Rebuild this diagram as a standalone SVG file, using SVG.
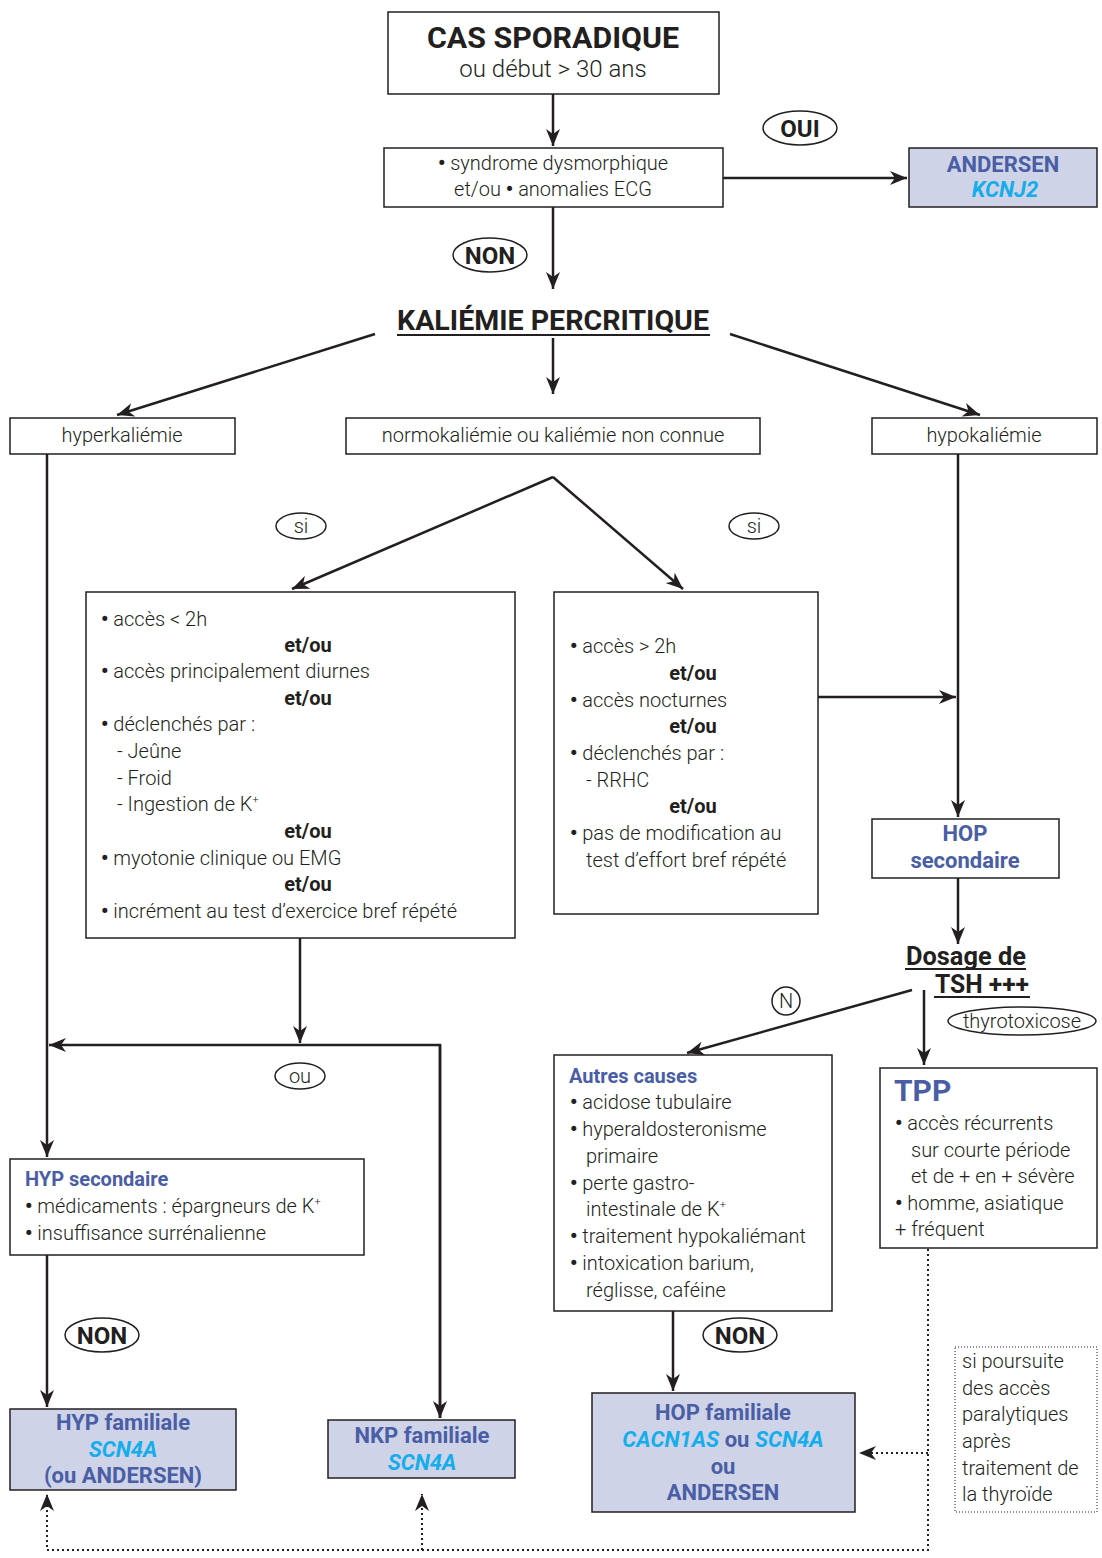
<svg xmlns="http://www.w3.org/2000/svg" width="1102" height="1558" viewBox="0 0 1102 1558">
<defs>
<style>
text{font-family:Roboto,"Liberation Sans",sans-serif;fill:#231f20}
.box{fill:#fff;stroke:#231f20;stroke-width:1.5}
.gbox{fill:#cfd3e7;stroke:#231f20;stroke-width:1.5}
.b{font-size:20px;font-weight:300}
.bu{font-weight:900}
.eo{font-size:20px;font-weight:700}
.hd{font-weight:700;fill:#4a5ea6}
.gene{font-weight:700;font-style:italic;fill:#16adec}
.lab{fill:#fff;stroke:#231f20;stroke-width:1.5}
.lt{font-weight:700;font-size:24px}
.c{stroke:#231f20;stroke-width:2.5;fill:none}
.d{stroke:#231f20;stroke-width:2;fill:none;stroke-dasharray:2 3}
.sup{font-size:11px}
</style>
<marker id="ar" markerUnits="userSpaceOnUse" markerWidth="18" markerHeight="14" refX="17" refY="7" orient="auto">
<path d="M0,0 L17,7 L0,14 L5,7 z" fill="#231f20"/>
</marker>
</defs>
<rect width="1102" height="1558" fill="#fff"/>

<g id="connectors">
<path class="c" d="M553,94 V146" marker-end="url(#ar)"/>
<path class="c" d="M723,178 H907" marker-end="url(#ar)"/>
<path class="c" d="M553,207 V289" marker-end="url(#ar)"/>
<path class="c" d="M553,338 V394" marker-end="url(#ar)"/>
<path class="c" d="M375,334 L117,415" marker-end="url(#ar)"/>
<path class="c" d="M730,334 L980,415" marker-end="url(#ar)"/>
<path class="c" d="M47,454 V1157" marker-end="url(#ar)"/>
<path class="c" d="M958,454 V817" marker-end="url(#ar)"/>
<path class="c" d="M553,477 L292,589" marker-end="url(#ar)"/>
<path class="c" d="M553,477 L683,589" marker-end="url(#ar)"/>
<path class="c" d="M818,697 H956" marker-end="url(#ar)"/>
<path class="c" d="M958,878 V944" marker-end="url(#ar)"/>
<path class="c" d="M912,990 L687,1053" marker-end="url(#ar)"/>
<path class="c" d="M924,990 V1065" marker-end="url(#ar)"/>
<path class="c" d="M300,938 V1043" marker-end="url(#ar)"/>
<path class="c" d="M440,1418 V1045 H49" marker-end="url(#ar)"/>
<path class="c" d="M440,1045 V1418" marker-end="url(#ar)"/>
<path class="c" d="M47,1255 V1407" marker-end="url(#ar)"/>
<path class="c" d="M673,1311 V1391" marker-end="url(#ar)"/>
<path class="d" d="M928,1249 V1550 H47 V1494" marker-end="url(#ar)"/>
<path class="d" d="M422,1550 V1494" marker-end="url(#ar)"/>
<path class="d" d="M928,1453 H859" marker-end="url(#ar)"/>
</g>

<g id="labels">
<g id="lab-oui"><ellipse class="lab" cx="800" cy="128" rx="37" ry="17"/><text class="lt" x="800" y="137" text-anchor="middle">OUI</text></g>
<g id="lab-non1"><ellipse class="lab" cx="490" cy="255" rx="37" ry="17"/><text class="lt" x="490" y="264" text-anchor="middle">NON</text></g>
<g id="lab-si1"><ellipse class="lab" cx="301" cy="526" rx="25" ry="13"/><text class="b" x="301" y="533" text-anchor="middle">si</text></g>
<g id="lab-si2"><ellipse class="lab" cx="754" cy="526" rx="25" ry="13"/><text class="b" x="754" y="533" text-anchor="middle">si</text></g>
<g id="lab-ou"><ellipse class="lab" cx="300" cy="1076" rx="25" ry="13"/><text class="b" x="300" y="1083" text-anchor="middle">ou</text></g>
<g id="lab-N"><circle class="lab" cx="786" cy="1001" r="14"/><text class="b" x="786" y="1008" text-anchor="middle">N</text></g>
<g id="lab-thyro"><ellipse class="lab" cx="1022" cy="1021" rx="74" ry="14"/><text class="b" x="1022" y="1028" text-anchor="middle">thyrotoxicose</text></g>
<g id="lab-non2"><ellipse class="lab" cx="102" cy="1335" rx="37" ry="17"/><text class="lt" x="102" y="1344" text-anchor="middle">NON</text></g>
<g id="lab-non3"><ellipse class="lab" cx="740" cy="1335" rx="37" ry="17"/><text class="lt" x="740" y="1344" text-anchor="middle">NON</text></g>
</g>

<g id="n-cas">
<rect class="box" x="388" y="12" width="331" height="82"/>
<text x="553" y="48" text-anchor="middle" font-size="30" font-weight="700" textLength="252" lengthAdjust="spacingAndGlyphs">CAS SPORADIQUE</text>
<text x="553" y="77" text-anchor="middle" font-size="24" font-weight="300">ou début &gt; 30 ans</text>
</g>

<g id="n-synd">
<rect class="box" x="384" y="148" width="339" height="59"/>
<text class="b" x="553" y="170" text-anchor="middle"><tspan class="bu">•</tspan> syndrome dysmorphique</text>
<text class="b" x="553" y="196" text-anchor="middle">et/ou <tspan class="bu">•</tspan> anomalies ECG</text>
</g>

<g id="n-andersen">
<rect class="gbox" x="909" y="148" width="188" height="59"/>
<text class="hd" x="1003" y="172" text-anchor="middle" font-size="22">ANDERSEN</text>
<text class="gene" x="1005" y="197" text-anchor="middle" font-size="22">KCNJ2</text>
</g>

<g id="n-kaliemie">
<text x="553" y="330" text-anchor="middle" font-size="28" font-weight="700" textLength="312" lengthAdjust="spacingAndGlyphs">KALIÉMIE PERCRITIQUE</text>
<line x1="397" y1="335" x2="710" y2="335" stroke="#231f20" stroke-width="2"/>
</g>

<g id="n-hyper">
<rect class="box" x="10" y="418" width="225" height="36"/>
<text class="b" x="122" y="442" text-anchor="middle">hyperkaliémie</text>
</g>
<g id="n-normo">
<rect class="box" x="346" y="418" width="414" height="36"/>
<text class="b" x="553" y="442" text-anchor="middle">normokaliémie ou kaliémie non connue</text>
</g>
<g id="n-hypo">
<rect class="box" x="872" y="418" width="225" height="36"/>
<text class="b" x="984" y="442" text-anchor="middle">hypokaliémie</text>
</g>

<g id="n-crit-left">
<rect class="box" x="86" y="592" width="429" height="346"/>
<text class="b" x="101" y="626"><tspan class="bu">•</tspan> accès &lt; 2h</text>
<text class="eo" x="308" y="652" text-anchor="middle">et/ou</text>
<text class="b" x="101" y="678"><tspan class="bu">•</tspan> accès principalement diurnes</text>
<text class="eo" x="308" y="705" text-anchor="middle">et/ou</text>
<text class="b" x="101" y="731"><tspan class="bu">•</tspan> déclenchés par :</text>
<text class="b" x="117" y="758">- Jeûne</text>
<text class="b" x="117" y="785">- Froid</text>
<text class="b" x="117" y="811">- Ingestion de K<tspan class="sup" dy="-8">+</tspan></text>
<text class="eo" x="308" y="838" text-anchor="middle">et/ou</text>
<text class="b" x="101" y="865"><tspan class="bu">•</tspan> myotonie clinique ou EMG</text>
<text class="eo" x="308" y="891" text-anchor="middle">et/ou</text>
<text class="b" x="101" y="918"><tspan class="bu">•</tspan> incrément au test d’exercice bref répété</text>
</g>

<g id="n-crit-right">
<rect class="box" x="554" y="592" width="264" height="322"/>
<text class="b" x="570" y="653"><tspan class="bu">•</tspan> accès &gt; 2h</text>
<text class="eo" x="693" y="680" text-anchor="middle">et/ou</text>
<text class="b" x="570" y="707"><tspan class="bu">•</tspan> accès nocturnes</text>
<text class="eo" x="693" y="733" text-anchor="middle">et/ou</text>
<text class="b" x="570" y="760"><tspan class="bu">•</tspan> déclenchés par :</text>
<text class="b" x="586" y="787">- RRHC</text>
<text class="eo" x="693" y="813" text-anchor="middle">et/ou</text>
<text class="b" x="570" y="840"><tspan class="bu">•</tspan> pas de modification au</text>
<text class="b" x="586" y="867">test d’effort bref répété</text>
</g>

<g id="n-hopsec">
<rect class="box" x="872" y="819" width="187" height="59"/>
<text class="hd" x="965" y="841" text-anchor="middle" font-size="22">HOP</text>
<text class="hd" x="965" y="868" text-anchor="middle" font-size="22">secondaire</text>
</g>

<g id="n-tsh">
<text x="966" y="965" text-anchor="middle" font-size="25" font-weight="700" textLength="120" lengthAdjust="spacingAndGlyphs">Dosage de</text>
<line x1="905" y1="969" x2="1026" y2="969" stroke="#231f20" stroke-width="2"/>
<text x="982" y="993" text-anchor="middle" font-size="25" font-weight="700" textLength="94" lengthAdjust="spacingAndGlyphs">TSH +++</text>
<line x1="934" y1="997" x2="1030" y2="997" stroke="#231f20" stroke-width="2"/>
</g>

<g id="n-autres">
<rect class="box" x="554" y="1055" width="278" height="256"/>
<text class="hd" x="569" y="1083" font-size="20">Autres causes</text>
<text class="b" x="570" y="1109"><tspan class="bu">•</tspan> acidose tubulaire</text>
<text class="b" x="570" y="1136"><tspan class="bu">•</tspan> hyperaldosteronisme</text>
<text class="b" x="586" y="1163">primaire</text>
<text class="b" x="570" y="1190"><tspan class="bu">•</tspan> perte gastro-</text>
<text class="b" x="586" y="1216">intestinale de K<tspan class="sup" dy="-8">+</tspan></text>
<text class="b" x="570" y="1243"><tspan class="bu">•</tspan> traitement hypokaliémant</text>
<text class="b" x="570" y="1270"><tspan class="bu">•</tspan> intoxication barium,</text>
<text class="b" x="586" y="1297">réglisse, caféine</text>
</g>

<g id="n-tpp">
<rect class="box" x="880" y="1068" width="217" height="180"/>
<text class="hd" x="894" y="1101" font-size="30">TPP</text>
<text class="b" x="895" y="1130"><tspan class="bu">•</tspan> accès récurrents</text>
<text class="b" x="911" y="1157">sur courte période</text>
<text class="b" x="911" y="1183">et de + en + sévère</text>
<text class="b" x="895" y="1210"><tspan class="bu">•</tspan> homme, asiatique</text>
<text class="b" x="895" y="1236">+ fréquent</text>
</g>

<g id="n-hypsec">
<rect class="box" x="10" y="1159" width="354" height="96"/>
<text class="hd" x="25" y="1186" font-size="20">HYP secondaire</text>
<text class="b" x="25" y="1213"><tspan class="bu">•</tspan> médicaments : épargneurs de K<tspan class="sup" dy="-8">+</tspan></text>
<text class="b" x="25" y="1240"><tspan class="bu">•</tspan> insuffisance surrénalienne</text>
</g>

<g id="n-hypfam">
<rect class="gbox" x="10" y="1409" width="226" height="81"/>
<text class="hd" x="123" y="1430" text-anchor="middle" font-size="22">HYP familiale</text>
<text class="gene" x="123" y="1457" text-anchor="middle" font-size="22">SCN4A</text>
<text class="hd" x="123" y="1483" text-anchor="middle" font-size="22">(ou ANDERSEN)</text>
</g>

<g id="n-nkpfam">
<rect class="gbox" x="328" y="1420" width="187" height="58"/>
<text class="hd" x="422" y="1443" text-anchor="middle" font-size="22">NKP familiale</text>
<text class="gene" x="422" y="1470" text-anchor="middle" font-size="22">SCN4A</text>
</g>

<g id="n-hopfam">
<rect class="gbox" x="592" y="1393" width="263" height="119"/>
<text class="hd" x="723" y="1420" text-anchor="middle" font-size="22">HOP familiale</text>
<text x="723" y="1447" text-anchor="middle" font-size="22"><tspan class="gene">CACN1AS</tspan><tspan class="hd"> ou </tspan><tspan class="gene">SCN4A</tspan></text>
<text class="hd" x="723" y="1474" text-anchor="middle" font-size="22">ou</text>
<text class="hd" x="723" y="1500" text-anchor="middle" font-size="22">ANDERSEN</text>
</g>

<g id="n-note">
<rect x="955" y="1347" width="142" height="165" fill="#fff" stroke="#231f20" stroke-width="1" stroke-dasharray="1 2"/>
<text class="b" x="962" y="1368" font-size="19">si poursuite</text>
<text class="b" x="962" y="1395" font-size="19">des accès</text>
<text class="b" x="962" y="1421" font-size="19">paralytiques</text>
<text class="b" x="962" y="1448" font-size="19">après</text>
<text class="b" x="962" y="1475" font-size="19">traitement de</text>
<text class="b" x="962" y="1501" font-size="19">la thyroïde</text>
</g>
</svg>
